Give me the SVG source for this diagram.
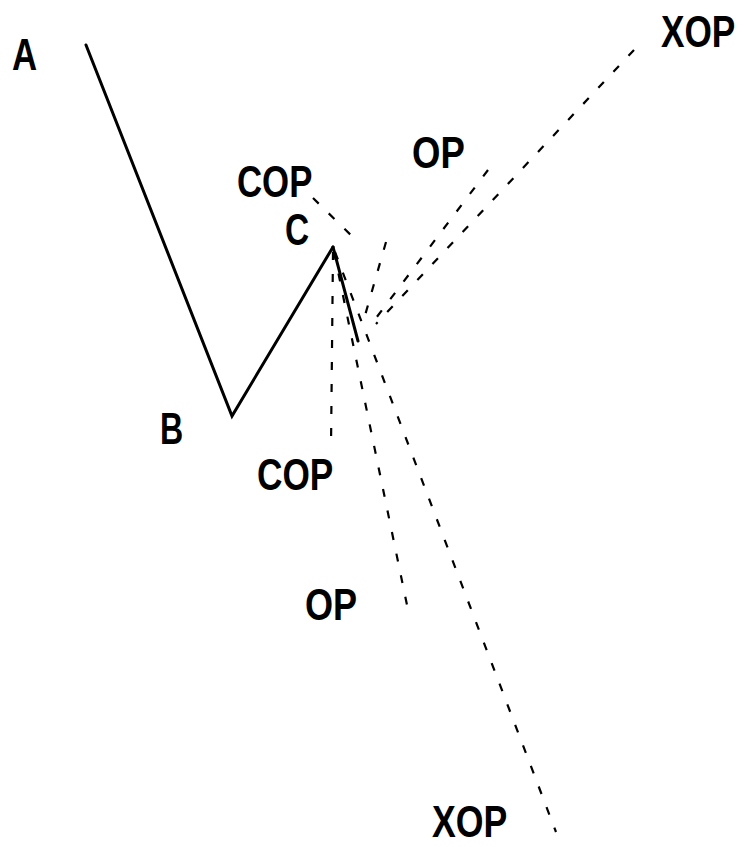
<svg xmlns="http://www.w3.org/2000/svg" width="744" height="847" viewBox="0 0 744 847">
<style>
.lbl{font-family:"Liberation Sans",Arial,sans-serif;font-weight:bold;font-size:44px;fill:#000}
.wave{fill:none;stroke:#000;stroke-width:3;stroke-linejoin:miter;stroke-linecap:round}
.dash{fill:none;stroke:#000;stroke-width:2.2;stroke-dasharray:8 14}
</style>
<rect width="744" height="847" fill="#fff"/>
<g id="wave">
<polyline class="wave" points="86,45 232,416 333,247"/>
<line class="wave" x1="333" y1="247" x2="358" y2="341" stroke-width="4"/>
</g>
<g id="connectors">
<line class="dash" x1="313" y1="198" x2="360" y2="244" stroke-width="1.5" stroke-dasharray="12 8"/>
<line class="dash" x1="333" y1="252" x2="331" y2="447"/>
<line class="dash" x1="334" y1="252" x2="407" y2="605"/>
<line class="dash" x1="335" y1="252" x2="556" y2="832"/>
<line class="dash" x1="386" y1="242" x2="362" y2="326"/>
<line class="dash" x1="488" y1="170" x2="370" y2="326"/>
<line class="dash" x1="634" y1="50" x2="376" y2="324"/>
</g>
<g id="label-A"><text class="lbl" transform="translate(12,70) scale(0.79,1)">A</text></g>
<g id="label-B"><text class="lbl" transform="translate(160,444) scale(0.73,1)">B</text></g>
<g id="label-C"><text class="lbl" transform="translate(285,245) scale(0.76,1)">C</text></g>
<g id="label-COP-upper"><text class="lbl" transform="translate(237,197) scale(0.79,1)">COP</text></g>
<g id="label-COP-lower"><text class="lbl" transform="translate(257,490) scale(0.8,1)">COP</text></g>
<g id="label-OP-lower"><text class="lbl" transform="translate(305,620) scale(0.82,1)">OP</text></g>
<g id="label-OP-upper"><text class="lbl" transform="translate(412,168) scale(0.83,1)">OP</text></g>
<g id="label-XOP-upper"><text class="lbl" transform="translate(661,47) scale(0.8,1)">XOP</text></g>
<g id="label-XOP-lower"><text class="lbl" transform="translate(432,837) scale(0.81,1)">XOP</text></g>
</svg>
